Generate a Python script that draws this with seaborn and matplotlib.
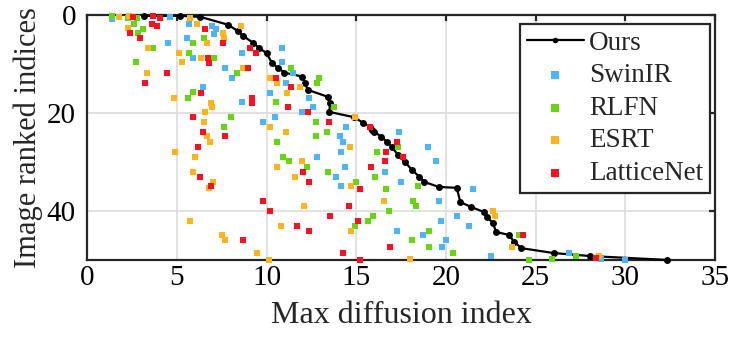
import pandas as pd
import seaborn as sns
import matplotlib.pyplot as plt

# values (x = max diffusion index, y = image rank)
ours_x = [3.18, 5.18, 6.3, 7.85, 8.4, 8.7, 9.25, 9.6, 10.0, 10.3, 10.66, 11.0, 12.0, 12.14, 12.3,
          13.4, 13.54, 13.5, 14.9, 15.4, 15.77, 15.9, 16.0, 16.4, 16.7, 17.0, 17.3, 17.7, 18.1,
          18.5, 18.8, 19.6, 20.6, 20.8, 21.4, 22.1, 22.3, 22.6, 22.8, 23.5, 23.8, 24.2, 26.0,
          28.0, 32.3]
ours_y = [0.2, 0.2, 0.4, 2.0, 3.3, 4.3, 5.7, 6.8, 7.8, 9.8, 10.9, 11.8, 12.6, 13.9, 15.3,
          16.7, 18.0, 19.8, 20.9, 22.1, 22.8, 23.5, 23.8, 24.9, 25.9, 27.0, 28.5, 30.0, 31.6,
          33.0, 34.1, 35.1, 35.3, 38.2, 39.2, 40.2, 41.3, 42.4, 44.3, 44.9, 46.3, 47.6, 48.6,
          49.2, 50.0]

swinir_x = [1.37, 4.62, 4.53, 6.44, 5.68, 6.98, 7.17, 7.08, 5.55, 5.89, 7.67, 8.06, 8.62,
            10.88, 10.85, 11.5, 11.1, 10.2, 12.35, 8.65, 12.59, 11.96, 9.82, 10.47, 14.41,
            14.1, 14.28, 17.4, 12.83, 14.15, 13.87, 14.37, 14.13, 16.6, 19.0, 19.42, 17.48,
            19.63, 21.49, 19.72, 20.59, 21.26, 17.25, 18.74, 19.98, 19.76, 22.49, 26.85,
            28.64, 29.97]
swinir_y = [0.8, 0.5, 5.8, 14.8, 1.8, 2.2, 2.9, 3.9, 4.8, 8.9, 10.9, 12.8, 7.8,
            6.8, 9.7, 11.8, 13.8, 15.9, 16.9, 17.8, 18.8, 19.9, 21.8, 20.9, 22.9,
            24.8, 26.0, 23.9, 28.9, 27.9, 33.0, 31.0, 35.0, 32.0, 26.9, 29.9, 34.0,
            38.0, 35.5, 42.0, 41.0, 43.1, 44.0, 45.0, 46.0, 47.4, 49.2, 48.6,
            49.9, 50.0]

rlfn_x = [1.37, 2.3, 2.8, 2.64, 3.14, 2.86, 3.66, 2.73, 5.92, 5.61, 8.0, 7.63, 5.89, 6.52,
          5.7, 7.09, 8.37, 11.35, 12.94, 12.83, 10.53, 13.78, 12.76, 13.35, 12.76, 10.6,
          10.9, 11.27, 12.27, 13.44, 14.97, 16.17, 16.04, 16.66, 16.84, 14.93, 15.67, 15.91,
          17.35, 18.42, 18.18, 18.31, 19.03, 18.12, 19.03, 20.37, 24.08, 24.62, 25.89, 27.24]
rlfn_y = [0.3, 0.6, 0.6, 1.8, 2.8, 3.7, 6.8, 9.7, 15.8, 16.9, 20.9, 22.9, 5.8, 4.8,
          7.8, 8.9, 11.8, 10.8, 12.8, 13.8, 17.8, 18.8, 21.8, 23.9, 24.8, 25.9,
          28.9, 29.9, 31.0, 32.0, 34.0, 27.9, 33.0, 35.5, 40.0, 43.1, 42.0, 41.0,
          26.9, 35.0, 38.0, 39.0, 44.0, 46.0, 47.4, 48.6, 45.0, 50.0, 49.9, 49.2]

esrt_x = [1.78, 2.36, 2.27, 3.4, 3.36, 4.85, 6.89, 6.98, 6.57, 6.52, 6.67, 6.15, 5.74, 7.56,
          7.63, 6.7, 5.14, 5.27, 6.35, 8.56, 8.71, 10.2, 10.57, 11.16, 11.87, 10.2, 11.09,
          14.93, 14.65, 10.6, 12.0, 11.59, 14.69, 16.55, 12.09, 10.79, 14.69, 9.45, 10.16,
          6.85, 4.9, 6.02, 5.89, 7.0, 6.8, 5.74, 7.54, 7.69, 17.99, 22.6, 22.75, 23.66, 28.52]
esrt_y = [0.5, 0.3, 2.7, 6.8, 11.8, 16.9, 17.9, 18.8, 19.9, 21.8, 24.8, 1.8, 0.7, 3.7,
          4.8, 5.8, 7.8, 9.7, 8.9, 2.2, 10.9, 12.8, 13.8, 15.9, 14.8, 22.9, 23.9,
          20.9, 27.0, 31.0, 29.9, 33.0, 35.0, 38.0, 39.0, 43.1, 44.0, 48.6, 50.0,
          25.9, 27.9, 28.9, 32.0, 34.0, 35.4, 42.0, 45.0, 46.0, 49.9, 40.0, 41.0, 47.4, 49.2]

latticenet_x = [2.55, 2.4, 2.95, 3.66, 4.07, 3.6, 3.88, 4.44, 3.25, 6.37, 5.89, 6.44, 7.67,
                6.57, 7.6, 6.76, 6.81, 9.08, 9.4, 8.95, 9.21, 9.21, 10.5, 11.36, 11.18, 12.29,
                13.48, 15.77, 17.25, 16.66, 16.62, 15.84, 12.05, 12.38, 15.21, 9.82, 10.2,
                14.61, 13.54, 11.68, 12.38, 15.11, 8.71, 14.24, 15.21, 16.9, 6.2, 6.3, 6.89,
                17.62, 24.27, 28.36]
latticenet_y = [0.5, 3.7, 4.8, 0.3, 0.7, 1.8, 2.2, 11.8, 13.8, 15.9, 20.9, 23.9, 24.8,
                2.9, 5.8, 8.9, 9.9, 6.8, 7.8, 10.9, 16.9, 17.9, 12.8, 14.8, 18.8, 19.9,
                21.8, 22.9, 25.9, 27.9, 29.9, 31.0, 32.0, 34.0, 35.5, 38.0, 40.0,
                39.0, 41.0, 43.1, 44.0, 42.0, 46.0, 48.6, 50.0, 47.4, 26.9, 33.0, 34.9,
                28.9, 45.0, 49.7]

methods = ['SwinIR', 'RLFN', 'ESRT', 'LatticeNet']
colors = ['#4DB5FF', '#66D610', '#FFB31C', '#FF1020']

# long table for the scatter methods
frames = []
for name, xs, ys in zip(methods,
                        [swinir_x, rlfn_x, esrt_x, latticenet_x],
                        [swinir_y, rlfn_y, esrt_y, latticenet_y]):
    frames.append(pd.DataFrame({'x': xs, 'y': ys, 'method': name}))
df = pd.concat(frames, ignore_index=True)
ours = pd.DataFrame({'x': ours_x, 'y': ours_y})

sns.set_style("whitegrid")
plt.rcParams['font.family'] = ['Liberation Serif', 'DejaVu Serif']
plt.rcParams['font.size'] = 21

fig = plt.figure(figsize=(7.32, 3.38), dpi=100)
ax = fig.add_axes([0.119, 0.231, 0.858, 0.725])

sns.lineplot(data=ours, x='x', y='y', sort=False, estimator=None, color='black',
             linewidth=1.6, marker='o', markersize=5, markeredgewidth=0,
             label='Ours', ax=ax, clip_on=False, zorder=3)

for name, col in zip(methods, colors):
    sub = df[df['method'] == name]
    sns.scatterplot(data=sub, x='x', y='y', color=col, marker='s', s=16,
                    linewidth=0, label=name, ax=ax, clip_on=False, zorder=4)

ax.set_xlim(0, 35)
ax.set_ylim(50, 0)
ax.set_xticks(range(0, 36, 5))
ax.set_yticks([0, 20, 40])
ax.set_xlabel('Max diffusion index', fontsize=23, labelpad=7)
ax.set_ylabel('Image ranked indices', fontsize=22, labelpad=3)

ax.grid(True, color='#DCDCDC', linewidth=1.2)
for sp in ax.spines.values():
    sp.set_visible(True)
    sp.set_color('#262626')
    sp.set_linewidth(1.6)
ax.tick_params(direction='in', top=True, right=True, length=4.5, width=1.6,
               color='#262626', labelcolor='black', pad=4)
ax.tick_params(axis='y', pad=8)

leg = ax.legend(loc='upper right', bbox_to_anchor=(0.992, 0.963), fancybox=False,
                framealpha=1, edgecolor='#262626', borderpad=0.25, labelspacing=0.28,
                handlelength=2.1, handletextpad=0.2, borderaxespad=0, fontsize=19.5)
leg.get_frame().set_linewidth(1.6)
for h in leg.legend_handles:
    if hasattr(h, 'set_sizes'):
        h.set_sizes([40])
    else:
        h.set_markersize(4)

fig.savefig('out.png', dpi=100)
